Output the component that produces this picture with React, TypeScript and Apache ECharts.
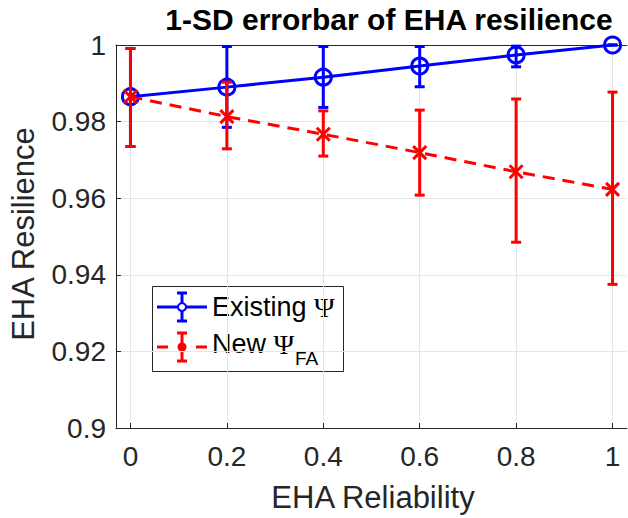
import React, { useEffect, useRef } from "react";
import * as echarts from "echarts";

// EHA reliability levels (x axis)
const reliability = [0, 0.2, 0.4, 0.6, 0.8, 1];

// Existing Ψ: mean resilience and ±1 SD bounds
const existingMean = [0.9865, 0.989, 0.9916, 0.9945, 0.9974, 1.0];
const existingLow = [0.9735, 0.9785, 0.9837, 0.9891, 0.9943, 1.0];
const existingHigh = [0.9991, 0.9996, 0.9996, 0.9996, 0.9997, 1.0];

// New Ψ_FA: mean resilience and ±1 SD bounds
const newMean = [0.9865, 0.9813, 0.9767, 0.9719, 0.9669, 0.9623];
const newLow = [0.9735, 0.9729, 0.971, 0.9608, 0.9485, 0.9375];
const newHigh = [0.9991, 0.9903, 0.9828, 0.983, 0.9859, 0.9877];

const xTicks = [0, 0.2, 0.4, 0.6, 0.8, 1];

const BLUE = "#0000ff";
const RED = "#ff0000";
const AXIS = "#262626";
const FONT = "'Liberation Sans', Arial, Helvetica, sans-serif";
const SERIF = "'Liberation Serif', 'Times New Roman', serif";

function errorBarSeries(
  name: string,
  low: number[],
  high: number[],
  color: string,
  z: number
) {
  const data = reliability.map((x, i) => [x, low[i], high[i]]);
  return {
    type: "custom",
    name,
    z,
    silent: true,
    data,
    encode: { x: 0, y: [1, 2] },
    renderItem: (_params: any, api: any) => {
      const x = api.value(0);
      const lo = api.coord([x, api.value(1)]);
      const hi = api.coord([x, api.value(2)]);
      const cap = 5;
      const style = { stroke: color, lineWidth: 3, fill: "none" };
      return {
        type: "group",
        children: [
          { type: "line", shape: { x1: lo[0], y1: lo[1], x2: hi[0], y2: hi[1] }, style },
          { type: "line", shape: { x1: lo[0] - cap, y1: lo[1], x2: lo[0] + cap, y2: lo[1] }, style },
          { type: "line", shape: { x1: hi[0] - cap, y1: hi[1], x2: hi[0] + cap, y2: hi[1] }, style },
        ],
      };
    },
  };
}

function legendGraphics() {
  const lx = 182;
  const y1 = 307;
  const y2 = 347;
  const bar = (cy: number, color: string) => [
    { type: "line", shape: { x1: lx, y1: cy - 14, x2: lx, y2: cy + 14 }, style: { stroke: color, lineWidth: 3 } },
    { type: "line", shape: { x1: lx - 5, y1: cy - 14, x2: lx + 5, y2: cy - 14 }, style: { stroke: color, lineWidth: 3 } },
    { type: "line", shape: { x1: lx - 5, y1: cy + 14, x2: lx + 5, y2: cy + 14 }, style: { stroke: color, lineWidth: 3 } },
  ];
  return {
    type: "group",
    z: 100,
    children: [
      {
        type: "rect",
        shape: { x: 152.5, y: 286.5, width: 191, height: 85 },
        style: { fill: "#ffffff", stroke: AXIS, lineWidth: 1 },
      },
      { type: "line", shape: { x1: 157, y1: y1, x2: 207, y2: y1 }, style: { stroke: BLUE, lineWidth: 3 } },
      ...bar(y1, BLUE),
      { type: "circle", shape: { cx: lx, cy: y1, r: 4 }, style: { stroke: BLUE, lineWidth: 2, fill: "#ffffff" } },
      {
        type: "text",
        x: 212,
        y: y1,
        style: {
          text: "{t|Existing }{g|Ψ}",
          textVerticalAlign: "middle",
          rich: {
            t: { fontFamily: FONT, fontSize: 27, fill: "#000" },
            g: { fontFamily: SERIF, fontSize: 28, fill: "#000" },
          },
        },
      },
      { type: "line", shape: { x1: 157, y1: y2, x2: 168, y2: y2 }, style: { stroke: RED, lineWidth: 3 } },
      { type: "line", shape: { x1: 196, y1: y2, x2: 207, y2: y2 }, style: { stroke: RED, lineWidth: 3 } },
      ...bar(y2, RED),
      { type: "circle", shape: { cx: lx, cy: y2, r: 4.5 }, style: { fill: RED } },
      {
        type: "text",
        x: 212,
        y: y2 - 3,
        style: {
          text: "{t|New }{g|Ψ}",
          textVerticalAlign: "middle",
          rich: {
            t: { fontFamily: FONT, fontSize: 27, fill: "#000" },
            g: { fontFamily: SERIF, fontSize: 28, fill: "#000" },
          },
        },
      },
      {
        type: "text",
        x: 295,
        y: 358,
        style: { text: "FA", fontFamily: FONT, fontSize: 19, fill: "#000", textVerticalAlign: "middle" },
      },
    ],
  };
}

export default function App() {
  const ref = useRef<HTMLDivElement>(null);

  useEffect(() => {
    if (!ref.current) return;
    const chart = echarts.init(ref.current, null, { renderer: "svg" });

    const option: any = {
      animation: false,
      backgroundColor: "#ffffff",
      grid: { left: 116, top: 45, width: 511, height: 383, containLabel: false },
      xAxis: [
        {
          type: "value",
          min: -0.03,
          max: 1.03,
          axisLine: { show: true, onZero: false, lineStyle: { color: AXIS, width: 1 } },
          axisTick: { show: true, inside: true, length: 5, customValues: xTicks, lineStyle: { color: AXIS } },
          axisLabel: {
            customValues: xTicks,
            formatter: (v: number) => String(+v.toFixed(2)),
            fontFamily: FONT,
            fontSize: 28,
            color: AXIS,
            margin: 14,
          },
          splitLine: { show: true, lineStyle: { color: "#e6e6e6", width: 1 } },
        },
        {
          type: "value",
          position: "top",
          min: -0.03,
          max: 1.03,
          axisLine: { show: true, onZero: false, lineStyle: { color: AXIS, width: 1 } },
          axisTick: { show: false },
          axisLabel: { show: false },
          splitLine: { show: false },
        },
      ],
      yAxis: {
        type: "value",
        min: 0.9,
        max: 1,
        interval: 0.02,
        axisLine: { show: true, onZero: false, lineStyle: { color: AXIS, width: 1 } },
        axisTick: { show: true, inside: true, length: 5, lineStyle: { color: AXIS } },
        axisLabel: {
          formatter: (v: number) => String(+v.toFixed(2)),
          fontFamily: FONT,
          fontSize: 28,
          color: AXIS,
          margin: 10,
        },
        splitLine: { show: true, lineStyle: { color: "#e6e6e6", width: 1 } },
      },
      graphic: [
        {
          type: "text",
          x: 389,
          y: 19,
          style: {
            text: "1-SD errorbar of EHA resilience",
            fontFamily: FONT,
            fontWeight: "bold",
            fontSize: 30,
            fill: "#000",
            textAlign: "center",
            textVerticalAlign: "middle",
          },
        },
        {
          type: "text",
          x: 373,
          y: 497,
          style: {
            text: "EHA Reliability",
            fontFamily: FONT,
            fontSize: 31,
            fill: AXIS,
            textAlign: "center",
            textVerticalAlign: "middle",
          },
        },
        {
          type: "text",
          x: 23,
          y: 234,
          rotation: Math.PI / 2,
          style: {
            text: "EHA Resilience",
            fontFamily: FONT,
            fontSize: 31,
            fill: AXIS,
            textAlign: "center",
            textVerticalAlign: "middle",
          },
        },
        legendGraphics(),
      ],
      series: [
        errorBarSeries("Existing Ψ bars", existingLow, existingHigh, BLUE, 2),
        {
          type: "line",
          name: "Existing Ψ",
          z: 3,
          data: reliability.map((x, i) => [x, existingMean[i]]),
          lineStyle: { color: BLUE, width: 3 },
          symbol: "circle",
          symbolSize: 16,
          itemStyle: { color: "rgba(0,0,0,0)", borderColor: BLUE, borderWidth: 3 },
          clip: false,
        },
        errorBarSeries("New Ψ_FA bars", newLow, newHigh, RED, 4),
        {
          type: "line",
          name: "New Ψ_FA",
          z: 5,
          data: reliability.map((x, i) => [x, newMean[i]]),
          lineStyle: { color: RED, width: 3, type: [12, 8] },
          symbol: "path://M0,0L10,10M10,0L0,10",
          symbolSize: 13,
          itemStyle: { color: "none", borderColor: RED, borderWidth: 3 },
          clip: false,
        },
      ],
    };

    chart.setOption(option);
    return () => chart.dispose();
  }, []);

  return <div ref={ref} style={{ width: 628, height: 518, position: "absolute", left: 0, top: 0 }} />;
}
